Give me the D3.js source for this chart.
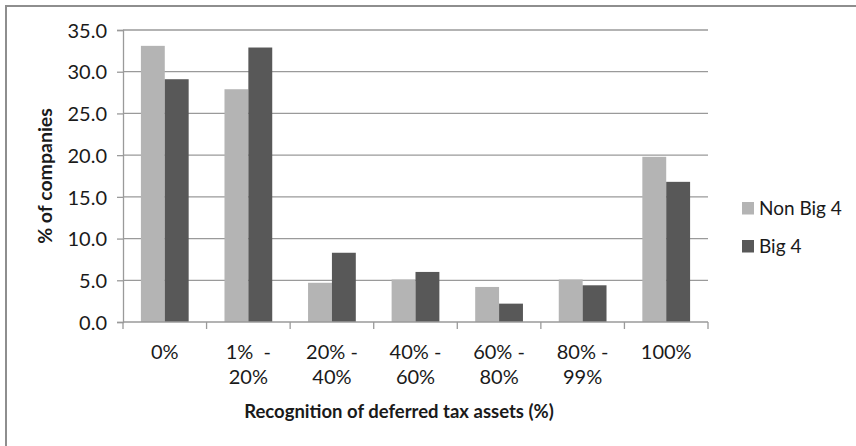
<!DOCTYPE html>
<html>
<head>
<meta charset="utf-8">
<script src="https://cdn.jsdelivr.net/npm/d3@7"></script>
<style>
  html, body { margin: 0; padding: 0; background: #fff; }
  svg { display: block; }
  text { font-family: Lato, "Open Sans", sans-serif; fill: #1a1a1a; }
</style>
</head>
<body>
<svg id="chart" width="856" height="446"></svg>
<script>
// Share of companies by recognition band of deferred tax assets
const categories = ["0%", "1% - 20%", "20% - 40%", "40% - 60%", "60% - 80%", "80% - 99%", "100%"];
const categoryLines = [["0%"], ["1%  -", "20%"], ["20% -", "40%"], ["40% -", "60%"], ["60% -", "80%"], ["80% -", "99%"], ["100%"]];
const seriesNames = ["Non Big 4", "Big 4"];
const nonBig4 = [33.1, 27.9, 4.7, 5.1, 4.2, 5.1, 19.8];
const big4 = [29.1, 32.9, 8.3, 6.0, 2.2, 4.4, 16.8];
const yTicks = [0, 5, 10, 15, 20, 25, 30, 35];
const colors = ["#b4b4b4", "#585858"];

const svg = d3.select("#chart");
const plot = { left: 123, right: 708, top: 30, bottom: 322 };

// outer frame (runs off the right and bottom edges)
svg.append("rect")
  .attr("x", 6).attr("y", 6)
  .attr("width", 900).attr("height", 500)
  .attr("fill", "none").attr("stroke", "#8e8e8e").attr("stroke-width", 2);

const x = d3.scaleBand().domain(categories).range([plot.left, plot.right]).paddingInner(0).paddingOuter(0);
const inner = d3.scaleBand().domain(seriesNames).range([0, x.bandwidth()]).paddingInner(0).paddingOuter(0.75);
const y = d3.scaleLinear().domain([0, 35]).range([plot.bottom, plot.top]);

// horizontal gridlines
svg.append("g").selectAll("line").data(yTicks.filter(d => d > 0)).join("line")
  .attr("x1", plot.left).attr("x2", plot.right)
  .attr("y1", d => y(d)).attr("y2", d => y(d))
  .attr("stroke", "#9a9a9a").attr("stroke-width", 1.3);

// y axis
const yAxis = svg.append("g").attr("transform", `translate(${plot.left},0)`)
  .call(d3.axisLeft(y).tickValues(yTicks).tickFormat(d3.format(".1f")).tickSize(6).tickPadding(10));
yAxis.select(".domain").attr("stroke", "#9a9a9a").attr("stroke-width", 1.3);
yAxis.selectAll(".tick line").attr("stroke", "#9a9a9a").attr("stroke-width", 1.3);
yAxis.selectAll(".tick text").attr("font-family", "Lato, 'Open Sans', sans-serif")
  .attr("font-size", 20).attr("fill", "#1a1a1a").attr("dy", "0.36em");

// bars
const rows = categories.map((c, i) => ({ cat: c, vals: [nonBig4[i], big4[i]] }));
const groups = svg.append("g").selectAll("g").data(rows).join("g")
  .attr("transform", d => `translate(${x(d.cat)},0)`);
groups.selectAll("rect").data(d => d.vals.map((v, j) => ({ v, s: seriesNames[j], j }))).join("rect")
  .attr("x", d => inner(d.s))
  .attr("width", inner.bandwidth())
  .attr("y", d => y(d.v))
  .attr("height", d => y(0) - y(d.v))
  .attr("fill", d => colors[d.j]);

// x axis line and category boundary ticks
const xAxisG = svg.append("g");
xAxisG.append("line")
  .attr("x1", plot.left).attr("x2", plot.right)
  .attr("y1", plot.bottom).attr("y2", plot.bottom)
  .attr("stroke", "#9a9a9a").attr("stroke-width", 1.3);
const bounds = categories.map(c => x(c)).concat([plot.right]);
xAxisG.selectAll("line.tick").data(bounds).join("line").attr("class", "tick")
  .attr("x1", d => d).attr("x2", d => d)
  .attr("y1", plot.bottom).attr("y2", plot.bottom + 7)
  .attr("stroke", "#9a9a9a").attr("stroke-width", 1.3);

// category labels
const labels = xAxisG.selectAll("text.cat").data(categories).join("text").attr("class", "cat")
  .attr("text-anchor", "middle")
  .attr("font-size", 20)
  .attr("x", d => x(d) + x.bandwidth() / 2)
  .attr("y", 359);
labels.each(function (d, i) {
  const t = d3.select(this);
  categoryLines[i].forEach((line, k) => {
    t.append("tspan").attr("x", x(d) + x.bandwidth() / 2).attr("dy", k === 0 ? 0 : 25)
      .style("white-space", "pre").text(line);
  });
});

// axis titles
svg.append("text")
  .attr("x", 399).attr("y", 418)
  .attr("text-anchor", "middle")
  .attr("font-size", 18.5).attr("font-weight", "bold")
  .text("Recognition of deferred tax assets (%)");

svg.append("text")
  .attr("transform", "translate(52,176) rotate(-90)")
  .attr("text-anchor", "middle")
  .attr("font-size", 19.5).attr("font-weight", "bold")
  .text("% of companies");

// legend
const legend = svg.append("g").attr("transform", "translate(742,0)");
const legendY = [202, 240];
seriesNames.forEach((name, i) => {
  legend.append("rect").attr("x", 0).attr("y", legendY[i]).attr("width", 12).attr("height", 12.5)
    .attr("fill", colors[i]);
  legend.append("text").attr("x", 17).attr("y", legendY[i] + 13)
    .attr("font-size", 19).text(name);
});
</script>
</body>
</html>
